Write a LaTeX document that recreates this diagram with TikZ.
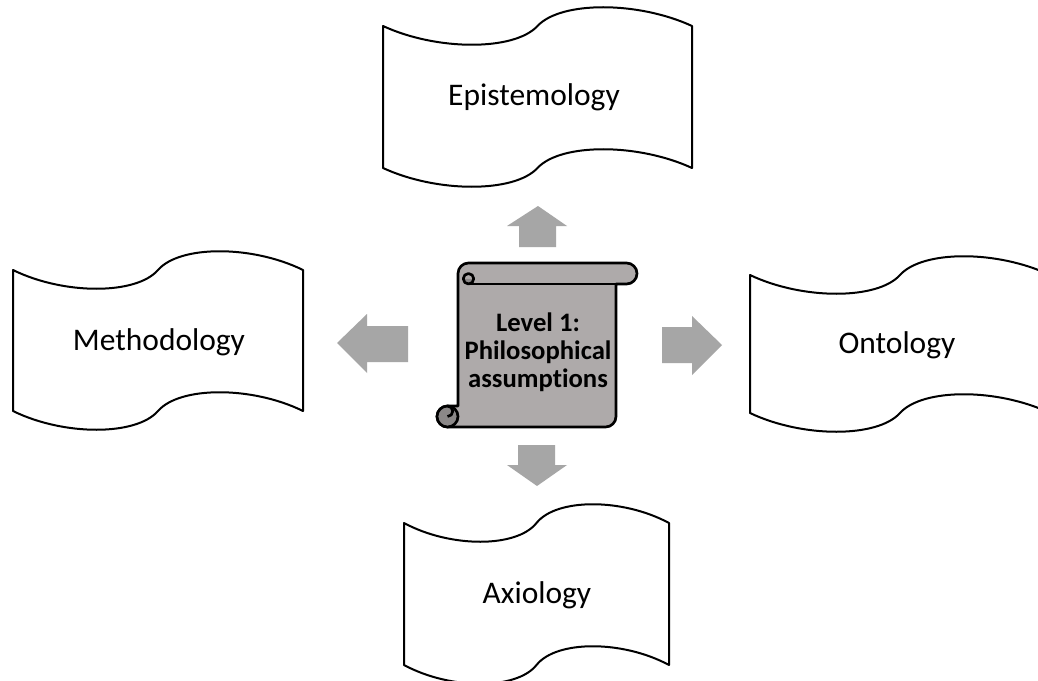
\documentclass[tikz,border=0pt]{standalone}
\usepackage{fontspec}
\setmainfont{Carlito}[Ligatures={NoCommon}]
\definecolor{scrollgray}{HTML}{AEAAAA}
\definecolor{curlgray}{HTML}{8B8888}
\definecolor{arrowgray}{HTML}{A6A6A6}
\tikzset{
  waveframe/.style={draw=black, line width=1.5pt, fill=white, line join=round},
  scrollline/.style={draw=black, line width=2pt, line join=round},
  blockarrow/.style={fill=arrowgray, draw=none},
  boxlabel/.style={font=\fontsize{23.6}{28}\selectfont, anchor=base, text=black, inner sep=0pt},
  scrolltext/.style={font=\bfseries\fontsize{20}{21}\selectfont, align=center, text=black, inner sep=0pt}
}
\newcommand\wavebox[4]{%
  \pgfmathsetmacro\wh{(#2-#1)/2}%
  \def\wa{25}%
  \draw[waveframe] (#1,#3)
    .. controls ({#1+0.35*\wh},{#3+\wa}) and ({#1+0.85*\wh},{#3+\wa}) .. ({#1+\wh},#3)
    .. controls ({#1+1.15*\wh},{#3-\wa}) and ({#1+1.65*\wh},{#3-\wa}) .. (#2,#3)
    -- (#2,#4)
    .. controls ({#1+1.65*\wh},{#4-\wa}) and ({#1+1.15*\wh},{#4-\wa}) .. ({#1+\wh},#4)
    .. controls ({#1+0.85*\wh},{#4+\wa}) and ({#1+0.35*\wh},{#4+\wa}) .. (#1,#4)
    -- cycle;}
\begin{document}
\begin{tikzpicture}[x=0.75pt,y=-0.75pt]
\useasboundingbox (0,0) rectangle (1038,681);
\fill[white] (0,0) rectangle (1038,681);

% wave boxes
\wavebox{383}{692}{26}{168}
\wavebox{13}{303}{270}{411}
\wavebox{750}{1050}{275}{413}
\wavebox{404}{669}{523}{665}

\node[boxlabel] (epi) at (534,106) {Epistemology};
\node[boxlabel] (meth) at (159,350) {Methodology};
\node[boxlabel] (onto) at (897,353) {Ontology};
\node[boxlabel] (axio) at (537,603) {Axiology};

% block arrows
\fill[blockarrow] (538,206) -- (567,226) -- (556,226) -- (556,247) -- (519,247) -- (519,226) -- (507,226) -- cycle;
\fill[blockarrow] (537,486) -- (567,465) -- (555,465) -- (555,445) -- (518,445) -- (518,465) -- (507,465) -- cycle;
\fill[blockarrow] (337,343) -- (367,314) -- (367,326) -- (408,326) -- (408,362) -- (367,362) -- (367,373) -- cycle;
\fill[blockarrow] (722,345) -- (692,316) -- (692,327) -- (662,327) -- (662,363) -- (692,363) -- (692,375) -- cycle;

% scroll
\draw[scrollline, fill=scrollgray] (458,273.5) arc[start angle=180, end angle=270, radius=10.5]
  -- (626.5,263) arc[start angle=-90, end angle=90, radius=10.5]
  -- (616,284) -- (616,416.5) arc[start angle=0, end angle=90, radius=10.5]
  -- (447.5,427) arc[start angle=90, end angle=270, radius=10.5]
  -- (458,406) -- cycle;
\fill[curlgray] (447.5,416.5) circle[radius=10.5];
\draw[scrollline] (447.5,416.5) circle[radius=10.5];
\draw[scrollline] (447.5,406) arc[start angle=-90, end angle=90, radius=5.25];
\fill[curlgray] (463.25,278.75) arc[start angle=180, end angle=0, radius=5.25] -- cycle;
\draw[scrollline] (468.5,278.75) circle[radius=5.25];
\draw[scrollline] (468.5,284) -- (616,284);

\node[scrolltext] (level) at (538,352) {Level 1:\\Philosophical\\assumptions};
\end{tikzpicture}
\end{document}
